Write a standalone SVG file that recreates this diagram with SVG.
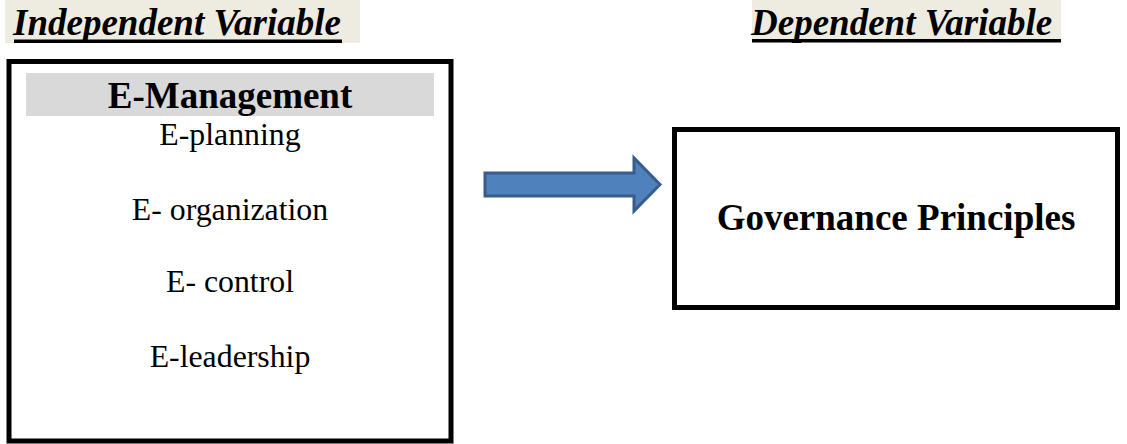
<svg xmlns="http://www.w3.org/2000/svg" width="1127" height="444" viewBox="0 0 1127 444">
<style>
.hdr{font-family:"Liberation Serif","Times New Roman",serif;font-weight:bold;font-style:italic;font-size:37px;fill:#000}
.box{fill:#fff;stroke:#000;stroke-width:5}
.title{font-family:"Liberation Serif","Times New Roman",serif;font-weight:bold;font-size:37px;fill:#000;text-anchor:middle}
.item{font-family:"Liberation Serif","Times New Roman",serif;font-size:31.8px;fill:#000;text-anchor:middle}
</style>
<rect width="1127" height="444" fill="#fff"/>
<g id="header-independent">
<rect x="5" y="0" width="355" height="43" fill="#EEECE1"/>
<text class="hdr" x="13" y="35">Independent Variable</text>
<rect x="14" y="39.5" width="328" height="3.5" fill="#000"/>
</g>
<g id="header-dependent">
<rect x="752" y="0" width="309" height="42" fill="#EEECE1"/>
<text class="hdr" x="751" y="35">Dependent Variable</text>
<rect x="752" y="39" width="309" height="3.5" fill="#000"/>
</g>
<g id="node-emanagement">
<rect class="box" x="9" y="61.5" width="442" height="379.5"/>
<rect x="26" y="73" width="408" height="43" fill="#D9D9D9"/>
<text class="title" x="230" y="108">E-Management</text>
<text class="item" x="230" y="145">E-planning</text>
<text class="item" x="230" y="220">E- organization</text>
<text class="item" x="230" y="292">E- control</text>
<text class="item" x="230" y="367">E-leadership</text>
</g>
<g id="node-governance">
<rect class="box" x="674.5" y="129.5" width="443" height="178"/>
<text class="title" x="896" y="230">Governance Principles</text>
</g>
<g id="connectors">
<path d="M485 173 L634 173 L634 158 L660 184.5 L634 211 L634 196 L485 196 Z" fill="#4F81BD" stroke="#385D8A" stroke-width="3" stroke-linejoin="miter"/>
</g>
</svg>
